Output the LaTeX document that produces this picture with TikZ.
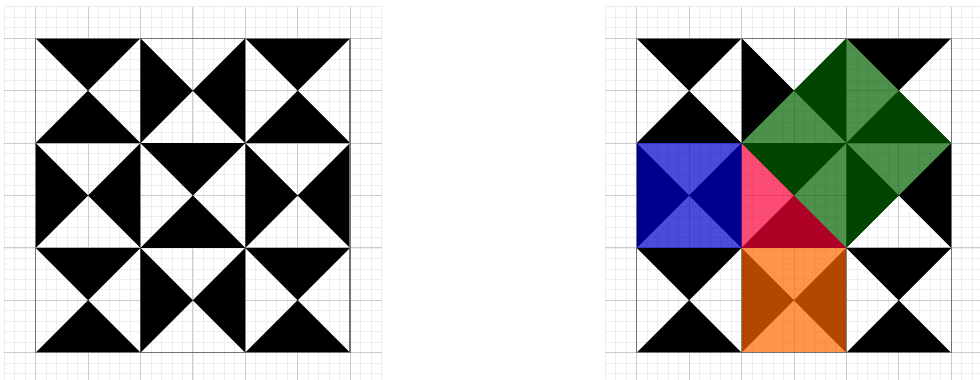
\documentclass[tikz,border=0pt]{standalone}
\usepackage{xcolor}
\usepackage{tikz}
\usetikzlibrary{calc}
\definecolor{veilgreen}{RGB}{0,100,0}
\definecolor{veilblue}{RGB}{0,0,200}
\definecolor{veilred}{RGB}{250,0,55}
\definecolor{veilorange}{RGB}{255,102,0}
\tikzset{
  minorgrid/.style={draw=black!7, line width=0.35pt},
  majorgrid/.style={draw=black!20, line width=0.45pt},
  frame/.style={draw=black!55, line width=0.7pt},
  blacktri/.style={fill=black},
  veil/.style={fill opacity=0.7},
}
% one 3x3 block of hourglass tiles, lower left corner at the origin
\newcommand{\quiltblock}{%
  \draw[minorgrid] (-0.6,-0.6) grid[step=0.2] (6.6,6.6);
  \draw[majorgrid] (-0.6,-0.6) grid[step=1] (6.6,6.6);
  \foreach \i in {0,1,2}{
    \foreach \j in {0,1,2}{
      \pgfmathtruncatemacro{\tileodd}{mod(\i+\j,2)}
      \ifnum\tileodd=0
        \fill[blacktri] (2*\i,2*\j+2) -- ++(2,0) -- ++(-1,-1) -- cycle
                        (2*\i,2*\j) -- ++(2,0) -- ++(-1,1) -- cycle;
      \else
        \fill[blacktri] (2*\i,2*\j) -- ++(0,2) -- ++(1,-1) -- cycle
                        (2*\i+2,2*\j) -- ++(0,2) -- ++(-1,-1) -- cycle;
      \fi
    }
  }
}

\begin{document}
\begin{tikzpicture}
  \useasboundingbox (-0.68,-0.52) rectangle (18.02,6.73);

  % plain block
  \begin{scope}
    \quiltblock
    \draw[frame] (0,0) rectangle (6,6);
  \end{scope}

  % block with coloured pieces
  \begin{scope}[xshift=11.47cm]
    \quiltblock
    \fill[veilgreen, veil] (2,4) -- (4,6) -- (6,4) -- (4,2) -- cycle;
    \fill[veilblue, veil] (0,2) rectangle (2,4);
    \fill[veilred, veil] (2,4) -- (2,2) -- (4,2) -- cycle;
    \fill[veilorange, veil] (2,0) rectangle (4,2);
    \draw[frame] (0,0) rectangle (6,6);
  \end{scope}
\end{tikzpicture}
\end{document}
